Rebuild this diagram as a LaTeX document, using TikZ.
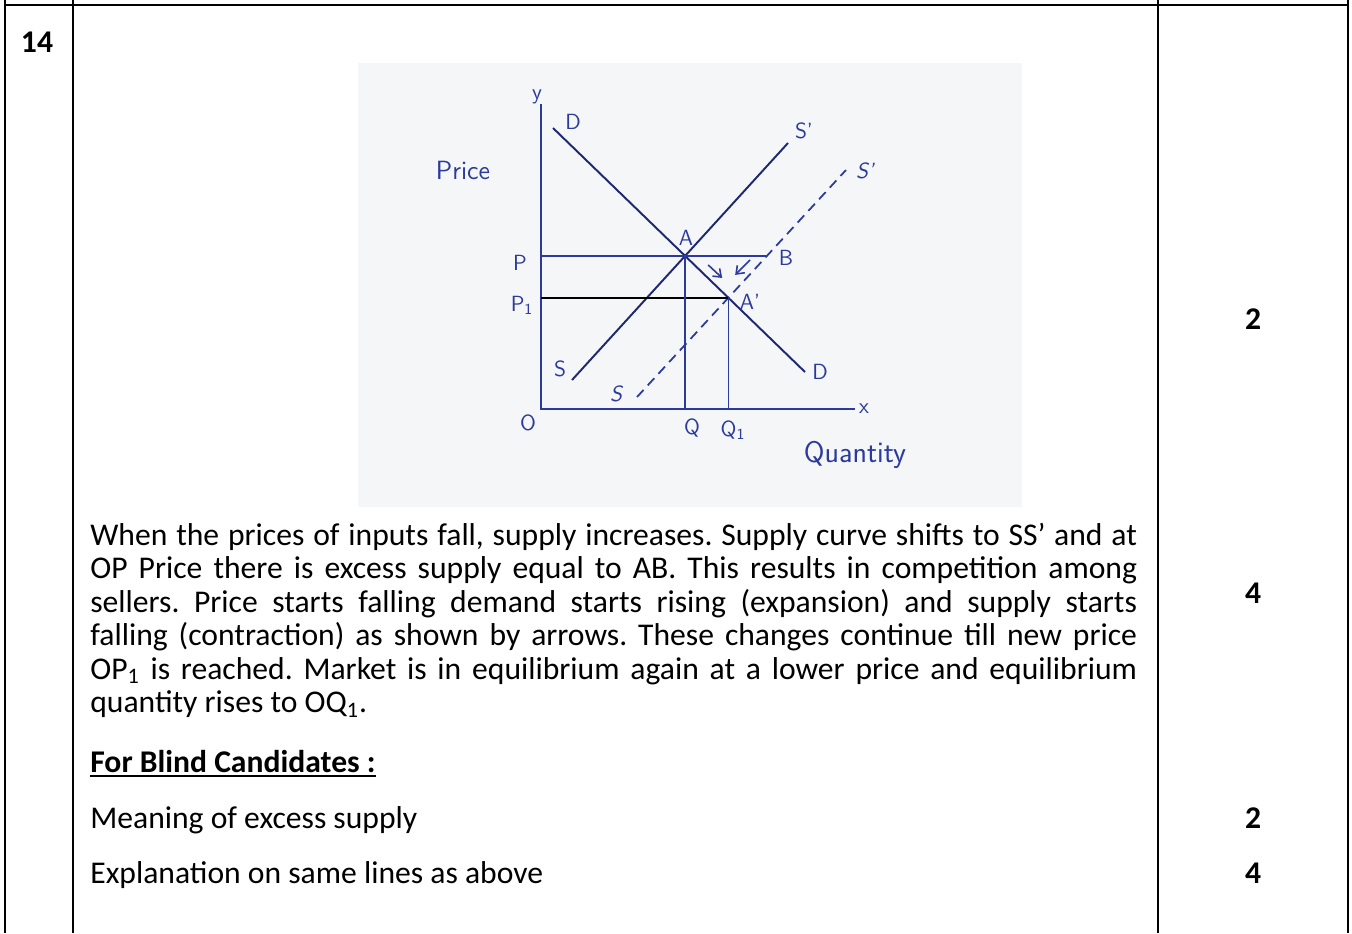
\documentclass[tikz,border=0pt]{standalone}
\usepackage{fontspec}
\setmainfont{Carlito}
\usepackage{tikz}
\usetikzlibrary{arrows.meta,calc}
\definecolor{inkblue}{HTML}{2B3A9C}
\definecolor{inkdark}{HTML}{1E2870}
\definecolor{scangray}{HTML}{F5F6F8}

\begin{document}
\begin{tikzpicture}[x=0.02cm,y=-0.02cm,
  rl/.style={line width=1.2pt,black},
  ax/.style={inkblue,line width=1.1pt},
  cv/.style={inkdark,line width=1.1pt},
  sh/.style={inkblue,line width=1pt,dash pattern=on 5.5pt off 3.5pt},
  gd/.style={inkblue,line width=1pt},
  pl/.style={-{Straight Barb[length=4pt,width=6pt]},inkblue,line width=0.9pt},
  hw/.style={inkblue,font=\sffamily\fontsize{12.5}{12.5}\selectfont,inner sep=0pt},
  mk/.style={font=\bfseries\fontsize{18}{18}\selectfont,inner sep=0pt},
  tx/.style={font=\fontsize{18}{19.06}\selectfont,inner sep=0pt,anchor=base west}]
\useasboundingbox (0,0) rectangle (1352,933);
\draw[rl] (4,5) -- (1349,5);
\foreach \xx in {5,73,1158,1348} \draw[rl] (\xx,0) -- (\xx,933);
\fill[scangray] (358,63) rectangle (1022,507);
\coordinate (O) at (541,409);
\coordinate (ytop) at (541,104);
\coordinate (xend) at (855,409);
\coordinate (d1) at (553,128); \coordinate (d2) at (805,372);
\coordinate (s1) at (572,380); \coordinate (s2) at (788,143);
\coordinate (t1) at (637,397); \coordinate (t2) at (846,170);
\coordinate (A) at (intersection of d1--d2 and s1--s2);
\coordinate (A1) at (intersection of d1--d2 and t1--t2);
\coordinate (Ax) at (A -| xend);
\coordinate (B) at (intersection of A--Ax and t1--t2);
\draw[ax] (ytop) -- (O) -- (xend);
\draw[cv] (d1) -- (d2); \draw[cv] (s1) -- (s2);
\draw[sh] (t1) -- (t2);
\draw[gd] (O |- A) -- (B);
\draw[black,line width=1.3pt] (O |- A1) -- (A1);
\draw[gd] (A) -- (A |- O); \draw[gd] (A1) -- (A1 |- O);
\draw[pl] ($(A)+(23,9)$) -- ($(A)+(37,22)$);
\draw[pl] ($(A)+(65,4)$) -- ($(A)+(50,19)$);
\node[hw] (ylab) at (537,97) {y};
\node[hw] (xlab) at (864,409) {x};
\node[hw] (olab) at (528,423) {O};
\node[hw] (dtop) at (573,122) {D};
\node[hw] (dbot) at (820,372) {D};
\node[hw] (stop) at (804,131) {S'};
\node[hw] (sbot) at (560,369) {S};
\node[hw] (ttop) at (865,171) {\itshape S'};
\node[hw] (tbot) at (616,394) {\itshape S};
\node[hw] (alab) at (686,238) {A};
\node[hw] (a1lab) at (750,302) {A'};
\node[hw] (blab) at (786,258) {B};
\node[hw] (plab) at (520,263) {P};
\node[hw] (p1lab) at (522,305) {P\textsubscript{1}};
\node[hw] (qlab) at (692,428) {Q};
\node[hw] (q1lab) at (733,430) {Q\textsubscript{1}};
\node[hw,font=\sffamily\fontsize{15}{15}\selectfont] (price) at (463,170) {Price};
\node[hw,font=\sffamily\fontsize{17}{17}\selectfont] (qty) at (855,455) {Quantity};
\node[mk] (qno) at (37,42) {14};
\node[mk] (m1) at (1253,319) {2};
\node[mk] (m2) at (1253,593) {4};
\node[mk] (m3) at (1253,818) {2};
\node[mk] (m4) at (1253,873) {4};
\node[tx,anchor=north west,text width=20.94cm,align=justify] (expl) at (90,521.6) {\frenchspacing\tolerance=9999\strut When the prices of inputs fall, supply increases. Supply curve shifts to SS’ and at\linebreak OP Price there is excess supply equal to AB. This results in competition among\linebreak sellers. Price starts falling demand starts rising (expansion) and supply starts\linebreak falling (contraction) as shown by arrows. These changes continue till new price\linebreak OP\textsubscript{1} is reached. Market is in equilibrium again at a lower price and equilibrium\linebreak quantity rises to OQ\textsubscript{1}.};
\node[tx,font=\bfseries\fontsize{18}{19.06}\selectfont] (blind) at (90,772) {For Blind Candidates :};
\draw[line width=1.1pt] ([yshift=-2.5pt]blind.base west) -- ([yshift=-2.5pt]blind.base east);
\node[tx] (mean) at (90,828) {Meaning of excess supply};
\node[tx] (same) at (90,883) {Explanation on same lines as above};
\end{tikzpicture}
\end{document}
